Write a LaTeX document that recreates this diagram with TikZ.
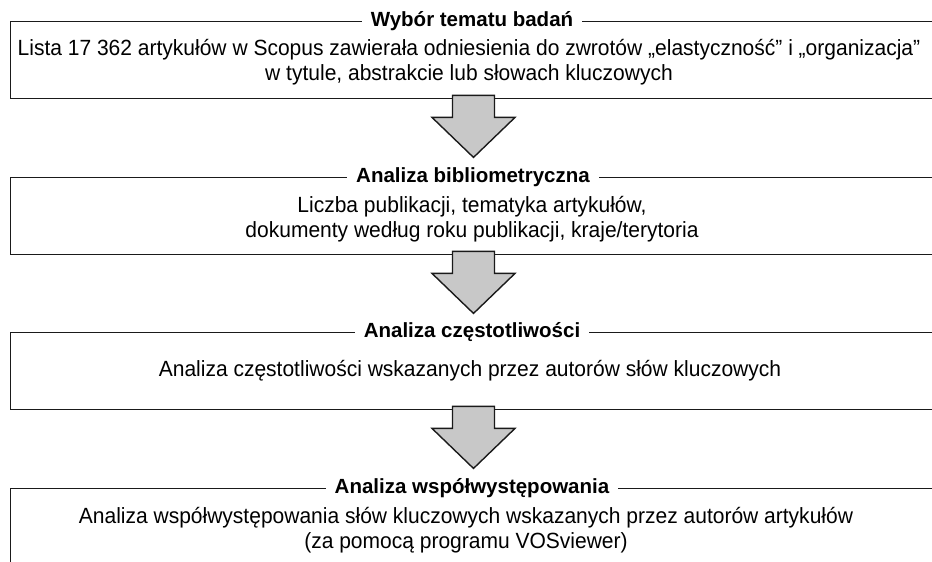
\documentclass[tikz,border=0pt]{standalone}
\usepackage{fontspec}
\setmainfont{Liberation Sans}
\newfontfamily\bodyfont[FakeStretch=0.955]{Liberation Sans}
\usetikzlibrary{calc}
\definecolor{arrowgray}{HTML}{C8C8C8}
\definecolor{framegray}{HTML}{1A1A1A}
\tikzset{
  stage/.style={draw=framegray, line width=1.4pt, minimum width=930pt,
    minimum height=77pt, inner sep=0pt, anchor=north west},
  heading/.style={fill=white, inner xsep=9pt, inner ysep=2pt,
    font=\bfseries\fontsize{20.5}{24}\selectfont},
  bodytext/.style={align=center, inner sep=0pt,
    font=\bodyfont\fontsize{22}{25}\selectfont},
  flow/.style={fill=arrowgray, draw=framegray, line width=1.4pt, line join=miter},
}
% block arrow hanging below a stage box
\newcommand{\flowarrow}[1]{%
  \draw[flow] ($(ax |- #1.south)+(-21,-4)$) -- ($(ax |- #1.south)+(21,-4)$)
    -- ($(ax |- #1.south)+(21,18)$) -- ($(ax |- #1.south)+(41.5,18)$)
    -- ($(ax |- #1.south)+(0,58)$) -- ($(ax |- #1.south)+(-41.5,18)$)
    -- ($(ax |- #1.south)+(-21,18)$) -- cycle;}
\begin{document}
\begin{tikzpicture}[x=1pt,y=-1pt]
  \useasboundingbox (0,0) rectangle (932,562);
  \fill[white] (0,0) rectangle (932,562);
  \clip (0,0) rectangle (932,562);
  \coordinate (ax) at (473.5,0);

  % stage frames
  \node[stage] (b1) at (9.5,21)  {};
  \node[stage] (b2) at (9.5,177) {};
  \node[stage] (b3) at (9.5,332) {};
  \node[stage] (b4) at (9.5,488) {};

  % headings sitting on the top edges
  \node[heading] (t1) at (472,21)  {Wybór tematu badań};
  \node[heading] (t2) at (473,177) {Analiza bibliometryczna};
  \node[heading] (t3) at (472,332) {Analiza częstotliwości};
  \node[heading] (t4) at (472,488) {Analiza współwystępowania};

  % arrows between stages
  \flowarrow{b1}
  \flowarrow{b2}
  \flowarrow{b3}

  % stage contents
  \node[bodytext] (c1) at (469,62) {Lista 17 362 artykułów w Scopus zawierała odniesienia do zwrotów „elastyczność” i „organizacja”\\w tytule, abstrakcie lub słowach kluczowych};
  \node[bodytext] (c2) at (472,219) {Liczba publikacji, tematyka artykułów,\\dokumenty według roku publikacji, kraje/terytoria};
  \node[bodytext] (c3) at (470,371) {Analiza częstotliwości wskazanych przez autorów słów kluczowych};
  \node[bodytext] (c4) at (466,530) {Analiza współwystępowania słów kluczowych wskazanych przez autorów artykułów\\(za pomocą programu VOSviewer)};
\end{tikzpicture}
\end{document}
